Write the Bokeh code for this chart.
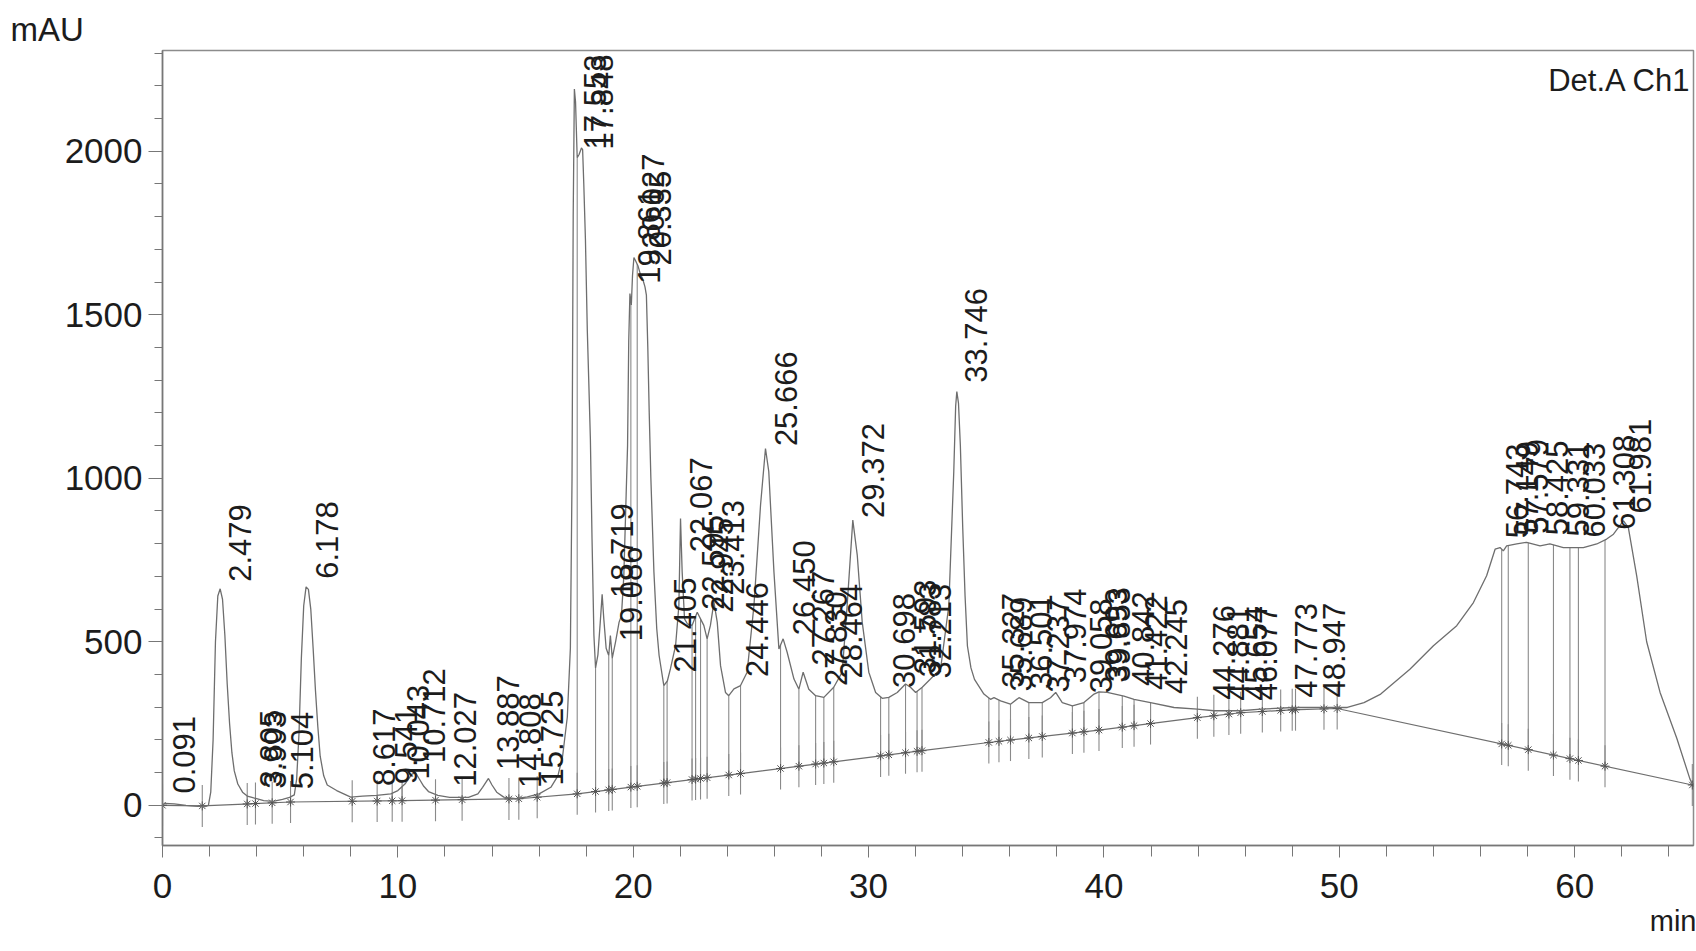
import numpy as np
from bokeh.plotting import figure
from bokeh.models import Range1d, SingleIntervalTicker, Label, Title
from bokeh.core.properties import value
from bokeh.embed import file_html
from bokeh.resources import INLINE

# ---- data ----
trace_t = [0.0, 0.1, 0.5, 1.0, 1.5, 1.8, 1.95, 2.05, 2.15, 2.25, 2.35, 2.45, 2.55, 2.65, 2.75, 2.85,
           2.95, 3.05, 3.2, 3.4, 3.6, 3.8, 4.0, 4.3, 4.7, 5.1, 5.4, 5.6, 5.7, 5.8, 5.9, 6.0, 6.1,
           6.2, 6.3, 6.4, 6.5, 6.6, 6.7, 6.85, 7.0, 7.4, 8.0, 8.5, 9.1, 9.7, 10.0, 10.3, 10.6,
           10.75, 10.9, 11.1, 11.3, 11.7, 12.2, 13.0, 13.4, 13.6, 13.85, 14.0, 14.2, 14.5, 15.0,
           15.5, 16.0, 16.5, 16.8, 17.0, 17.2, 17.33, 17.4, 17.45, 17.5, 17.55, 17.62, 17.7,
           17.8, 17.85, 17.9, 17.97, 18.05, 18.11, 18.18, 18.25, 18.33, 18.4, 18.5, 18.6, 18.68,
           18.75, 18.85, 18.96, 19.03, 19.11, 19.25, 19.4, 19.5, 19.6, 19.7, 19.76, 19.81, 19.86,
           19.92, 19.97, 20.03, 20.1, 20.2, 20.3, 20.4, 20.5, 20.56, 20.62, 20.68, 20.75, 20.88,
           21.0, 21.1, 21.3, 21.45, 21.58, 21.8, 21.94, 22.01, 22.08, 22.18, 22.3, 22.5, 22.72,
           22.86, 23.0, 23.14, 23.28, 23.43, 23.57, 23.71, 23.92, 24.06, 24.28, 24.56, 24.84,
           25.13, 25.41, 25.62, 25.76, 25.98, 26.19, 26.37, 26.54, 26.83, 27.04, 27.22, 27.46,
           27.75, 28.1, 28.52, 28.88, 29.09, 29.33, 29.52, 29.73, 30.01, 30.3, 30.58, 30.86,
           31.22, 31.57, 31.78, 32.0, 32.28, 32.63, 33.06, 33.41, 33.62, 33.7, 33.75, 33.82,
           33.9, 34.0, 34.1, 34.2, 34.35, 34.5, 34.9, 35.18, 35.33, 35.61, 36.03, 36.39, 36.81,
           37.38, 37.73, 37.95, 38.23, 38.66, 39.15, 39.58, 39.79, 40.14, 40.85, 41.28, 41.98,
           42.98, 43.97, 44.67, 45.81, 46.66, 48.07, 49.49, 50.34, 51.05, 51.76, 53.0, 54.0,
           54.99, 55.7, 56.26, 56.62, 56.83, 56.97, 57.11, 57.54, 57.96, 58.53, 58.95, 59.52,
           60.37, 60.94, 61.36, 61.65, 62.07, 62.28, 62.64, 63.06, 63.63, 64.34, 64.9, 65.0]
trace_y = [0, 6, 4, 0, -3, -4, 0, 40, 200, 500, 640, 662, 630, 520, 370, 250,
           160, 105, 65, 40, 28, 24, 20, 14, 12, 18, 24, 32, 80, 220, 450, 610, 668,
           660, 600, 480, 350, 240, 150, 90, 62, 45, 25, 28, 30, 35, 45, 65, 95,
           100, 82, 58, 42, 30, 24, 24, 35, 55, 82, 62, 40, 25, 20,
           26, 35, 55, 90, 150, 270, 480, 1000, 1800, 2190, 2150, 1980, 1990,
           2010, 2005, 1900, 1730, 1450, 1300, 1120, 815, 520, 420, 460, 560, 645,
           570, 480, 458, 519, 450, 500, 560, 580, 700, 950, 1100, 1420, 1565,
           1530, 1620, 1675, 1665, 1650, 1625, 1610, 1585, 1560, 1400, 1200, 1000, 713,
           540, 458, 366, 380, 417, 488, 611, 877, 713, 570, 555, 550, 590,
           570, 550, 509, 550, 621, 560, 427, 345, 335, 356, 366, 407,
           611, 918, 1091, 1020, 713, 478, 509, 468, 386, 355, 407, 355,
           335, 330, 361, 407, 611, 872, 764, 560, 407, 345, 327, 330,
           345, 371, 361, 345, 361, 386, 417, 611, 1020, 1220, 1265, 1230,
           1100, 850, 640, 487, 420, 385, 340, 324, 329, 319, 309, 329, 314,
           314, 329, 345, 314, 304, 314, 340, 347, 345, 334, 324, 314,
           299, 294, 289, 289, 294, 299, 299, 299, 314, 340, 416, 488,
           549, 620, 702, 783, 788, 778, 793, 799, 804, 793, 799, 788,
           788, 799, 814, 829, 870, 850, 700, 500, 345, 205, 80, 65]

base_t = [0.0, 1.69, 5.44, 10.18, 15.14, 17.62, 20.17, 24.56, 28.52, 32.27, 35.11, 39.79,
          43.97, 45.81, 48.0, 49.91, 65.0]
base_y = [0, -2, 10, 14, 20, 35, 58, 97, 133, 167, 192, 230, 268, 283, 292, 296, 62]

drop_t = [0.0, 1.69, 3.6, 3.95, 4.66, 5.44, 8.06, 9.12, 9.76, 10.18, 11.6, 12.73, 14.72,
          15.14, 15.92, 17.62, 18.40, 18.96, 19.11, 19.90, 20.17, 21.30, 21.44, 22.50, 22.65,
          22.86, 23.14, 24.06, 24.56, 26.26, 27.04, 27.75, 28.10, 28.52, 30.51, 30.86, 31.57,
          32.06, 32.27, 35.11, 35.54, 36.03, 36.81, 37.38, 38.66, 39.15, 39.79, 40.78, 41.28,
          41.98, 43.97, 44.67, 45.31, 45.81, 46.73, 47.51, 48.0, 48.14, 49.35, 49.91, 56.9,
          57.18, 58.03, 59.1, 59.8, 60.16, 61.29, 65.0]

peak_rt = [0.091, 2.479, 3.805, 3.993, 5.104, 6.178, 8.617, 9.541, 10.043, 10.712, 12.027,
           13.887, 14.808, 15.725, 17.553, 17.848, 18.719, 19.086, 19.861, 20.027, 20.335,
           21.405, 22.067, 22.595, 22.945, 23.413, 24.446, 25.666, 26.450, 27.267, 27.830,
           28.464, 29.372, 30.698, 31.593, 31.783, 32.213, 33.746, 35.327, 35.689, 36.501,
           37.237, 37.974, 39.058, 39.693, 39.853, 40.842, 41.422, 42.245, 44.276, 44.881,
           45.654, 46.077, 47.773, 48.947, 56.743, 57.149, 57.579, 58.425, 59.331, 60.033,
           61.308, 61.981]

x_ticks_step = 10
y_ticks_step = 500

# ---- figure ----
GRAY = "#6e6e6e"
TXT = "#1c1c1c"
FONT = "Liberation Sans"

p = figure(width=1696, height=951, output_backend="svg", toolbar_location=None,
           x_range=Range1d(0, 65.05), y_range=Range1d(-123, 2308),
           min_border_left=162, min_border_right=3, min_border_top=50, min_border_bottom=106)
p.background_fill_color = "white"
p.border_fill_color = "white"
p.outline_line_color = "#8c8c8c"
p.outline_line_width = 1.5
p.grid.visible = False

for ax, step in ((p.xaxis[0], x_ticks_step), (p.yaxis[0], y_ticks_step)):
    ax.ticker = SingleIntervalTicker(interval=step, num_minor_ticks=5)
    ax.axis_line_color = "#777777"
    ax.axis_line_width = 1.5
    ax.major_tick_line_color = "#777777"
    ax.minor_tick_line_color = "#777777"
    ax.major_tick_in = 0
    ax.minor_tick_in = 0
    ax.major_label_text_font = FONT
    ax.major_label_text_font_size = "35px"
    ax.major_label_text_color = TXT

p.xaxis.major_tick_out = 12
p.xaxis.minor_tick_out = 11
p.xaxis.major_label_standoff = 16
p.yaxis.major_tick_out = 14
p.yaxis.minor_tick_out = 8
p.yaxis.major_label_standoff = 6

tt = np.array(trace_t, dtype=float)
ty = np.array(trace_y, dtype=float)
dt = np.array(drop_t, dtype=float)
top = np.interp(dt, tt, ty)
foot = np.interp(dt, base_t, base_y)

# integration baseline
p.line(base_t, base_y, line_color=GRAY, line_width=1.2)
# drop lines
p.segment(x0=dt, y0=top, x1=dt, y1=foot, line_color="#8a8a8a", line_width=1.1)
p.scatter(dt, foot, marker="dash", angle=np.pi / 2, size=42, line_color="#8a8a8a", line_width=1.1)
p.scatter(dt, foot, marker="asterisk", size=9, line_color="#555555", line_width=1)
# chromatogram trace
p.line(tt, ty, line_color=GRAY, line_width=1.3)

# retention time labels
rt = np.array(peak_rt)
lab_y = np.minimum(np.interp(rt, tt, ty), 1975)
p.text(x=rt, y=lab_y, text=[f"{v:.3f}" for v in peak_rt], angle=np.pi / 2,
       x_offset=19, y_offset=-10, text_align="left", text_baseline="middle",
       text_font=value(FONT), text_font_size="31px", text_color=TXT)

p.add_layout(Label(x=64.95, y=2216, text="Det.A Ch1", text_align="right", text_baseline="middle",
                   text_font=FONT, text_font_size="31px", text_color=TXT))

t_mau = Title(text="mAU", align="left", offset=-152, standoff=5,
              text_font=FONT, text_font_size="33px", text_font_style="normal", text_color=TXT)
p.add_layout(t_mau, "above")
t_min = Title(text="min", align="right", offset=-3, standoff=5,
              text_font=FONT, text_font_size="29px", text_font_style="normal", text_color=TXT)
p.add_layout(t_min, "below")

open("out.html", "w").write(file_html(p, INLINE))
